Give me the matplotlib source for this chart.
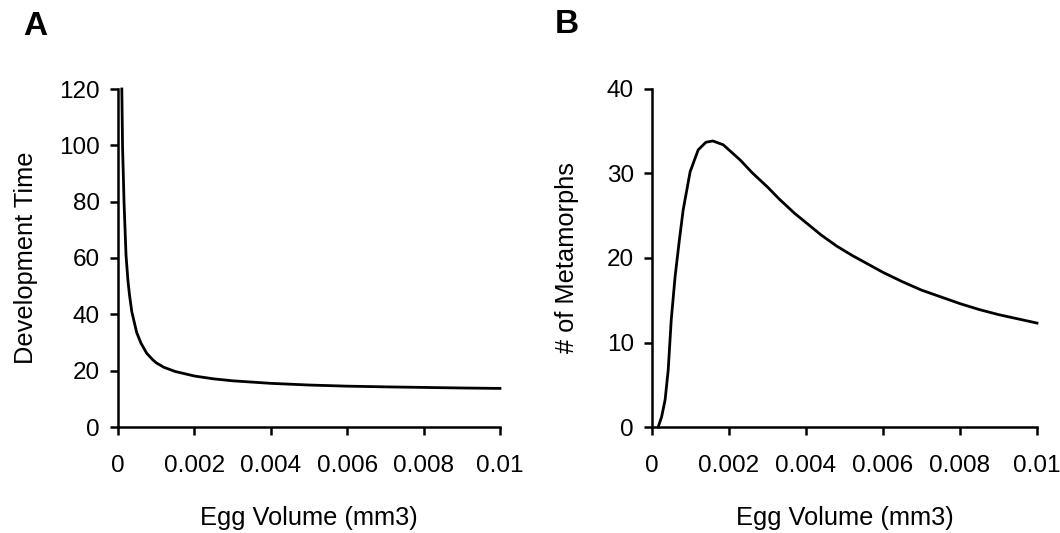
import numpy as np
from matplotlib import pyplot as plt

plt.rcParams['font.family'] = ['Liberation Sans', 'DejaVu Sans']

# panel A: development time vs egg volume
volA = [0.0001, 0.00012, 0.00016, 0.00021, 0.00026, 0.0003, 0.00036, 0.00049, 0.0006,
        0.00075, 0.0009, 0.001, 0.0012, 0.0015, 0.002, 0.0025, 0.003, 0.004, 0.005,
        0.006, 0.007, 0.008, 0.009, 0.01]
devTime = [120, 99, 79, 61, 52, 47, 41, 33.5, 29.8, 26.2, 24, 22.8, 21.2, 19.7, 18.1,
           17.1, 16.4, 15.5, 14.9, 14.5, 14.25, 14.05, 13.85, 13.7]

# panel B: number of metamorphs vs egg volume
volB = [0.00016, 0.00025, 0.00034, 0.00042, 0.0005, 0.0006, 0.00071, 0.00081, 0.00099,
        0.0012, 0.0014, 0.00158, 0.00185, 0.00229, 0.0026, 0.003, 0.0033, 0.0037,
        0.0044, 0.0048, 0.0052, 0.006, 0.0065, 0.007, 0.0075, 0.008, 0.0085, 0.009,
        0.0095, 0.01]
metamorphs = [0, 1.2, 3.2, 6.7, 12.7, 17.8, 22.1, 25.7, 30.2, 32.8, 33.7, 33.85, 33.4,
              31.6, 30.1, 28.4, 27.0, 25.3, 22.7, 21.4, 20.3, 18.3, 17.2, 16.2, 15.4,
              14.6, 13.9, 13.3, 12.8, 12.3]

xticks = [0, 0.002, 0.004, 0.006, 0.008, 0.01]
xtickLabels = ['0', '0.002', '0.004', '0.006', '0.008', '0.01']

tickFs = 17.5
labelFs = 18.3

fig = plt.figure(figsize=(10.6, 5.33), dpi=100)
axA = fig.add_axes([118 / 1060, 106 / 533, 382 / 1060, 338 / 533])
axB = fig.add_axes([652 / 1060, 106 / 533, 385 / 1060, 338 / 533])


def style(ax, ymax, ystep, ylabel, labelx):
    ax.set_xlim(0, 0.01)
    ax.set_ylim(0, ymax)
    ax.set_xticks(xticks)
    ax.set_xticklabels(xtickLabels)
    ax.set_yticks(np.arange(0, ymax + 1, ystep))
    for side in ['top', 'right']:
        ax.spines[side].set_visible(False)
    for side in ['left', 'bottom']:
        ax.spines[side].set_linewidth(1.8)
    ax.tick_params(axis='x', direction='out', length=6, width=1.8, pad=14, labelsize=tickFs)
    ax.tick_params(axis='y', direction='out', length=6, width=1.8, pad=7, labelsize=tickFs)
    ax.set_xlabel('Egg Volume (mm3)', fontsize=labelFs)
    ax.set_ylabel(ylabel, fontsize=labelFs)
    ax.xaxis.set_label_coords(0.5, -0.235)
    ax.yaxis.set_label_coords(labelx, 0.5)


axA.plot(volA, devTime, color='black', linewidth=2, clip_on=False)
style(axA, 120, 20, 'Development Time', -0.21)

axB.plot(volB, metamorphs, color='black', linewidth=2, clip_on=False)
style(axB, 40, 10, '# of Metamorphs', -0.19)

fig.text(35 / 1060, 1 - 11 / 533, 'A', fontsize=24, fontweight='bold', ha='center', va='top')
fig.text(567 / 1060, 1 - 9 / 533, 'B', fontsize=24, fontweight='bold', ha='center', va='top')

plt.savefig('out.png', dpi=100)
